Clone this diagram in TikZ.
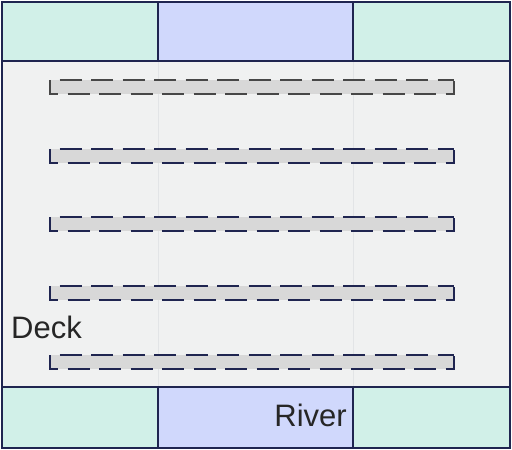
\documentclass[tikz,border=0pt]{standalone}
\usepackage{fontspec}
\setmainfont{Liberation Sans}
\definecolor{edge}{HTML}{1F2550}
\definecolor{bank}{HTML}{D1F0E8}
\definecolor{water}{HTML}{D0D8FC}
\definecolor{deckfill}{HTML}{F0F1F1}
\definecolor{plank}{HTML}{D8D8D8}
\definecolor{guide}{HTML}{E2E4E6}
\begin{document}
\begin{tikzpicture}[x=1pt,y=-1pt]
        \tikzset{
          cell/.style={draw=edge, line width=1.6pt},
          plankline/.style={draw=edge, line width=2.1pt, dash pattern=on 22pt off 9.5pt},
          label/.style={font=\fontsize{31}{36}\selectfont, text=black!85, inner sep=0pt}
        }
        \useasboundingbox (0,0) rectangle (512,450);
        % deck
        \draw[fill=deckfill, draw=none] (2,61) rectangle (510,387);
        \draw[guide, line width=1pt] (158,61) -- (158,387);
        \draw[guide, line width=1pt] (353,61) -- (353,387);
        % banks and river, top and bottom
        \draw[cell, fill=bank] (2,2) rectangle (158,61);
        \draw[cell, fill=water] (158,2) rectangle (353,61);
        \draw[cell, fill=bank] (353,2) rectangle (510,61);
        \draw[cell, fill=bank] (2,387) rectangle (158,448);
        \draw[cell, fill=water] (158,387) rectangle (353,448);
        \draw[cell, fill=bank] (353,387) rectangle (510,448);
        % planks
        \foreach \y/\c in {80/black!72,149/edge,217/edge,286/edge,355/edge} {
          \fill[plank] (50,\y) rectangle (454,\y+14);
          \draw[plankline, draw=\c] (50,\y) -- (50,\y+14) -- (454,\y+14) -- (454,\y);
          \draw[plankline, draw=\c, dash phase=22pt] (50,\y) -- (454,\y);
        }
        \draw[draw=edge, line width=2.2pt] (2,2) rectangle (510,448);
        \node[label, anchor=base west] (deck) at (11,338) {Deck};
        \node[label, anchor=base east] (river) at (347,426) {River};
      \end{tikzpicture}
\end{document}
